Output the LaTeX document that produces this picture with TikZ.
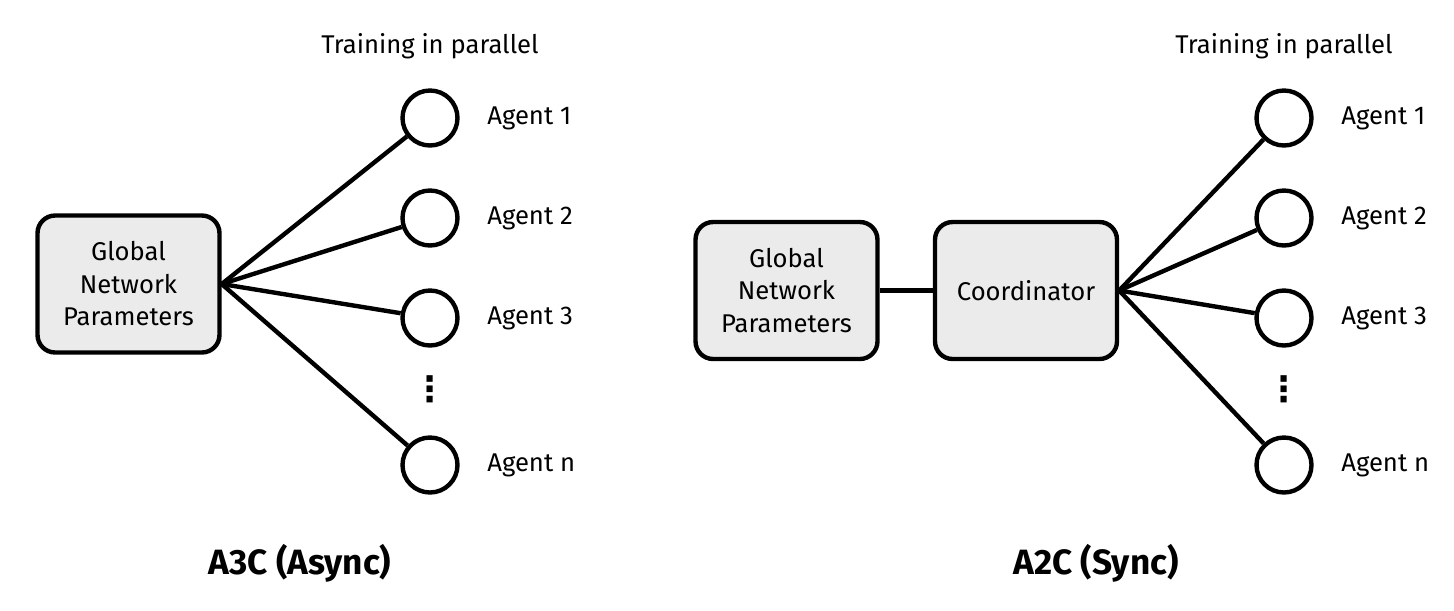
\documentclass[tikz,border=0pt]{standalone}
\usepackage{fontspec}
\setmainfont{Fira Sans}
\newfontfamily\symfont{DejaVu Sans}
\usetikzlibrary{positioning}

\begin{document}
\begin{tikzpicture}[x=0.02cm, y=-0.02cm, font=\fontsize{14.6}{17}\selectfont]

	% ==========================================
	% 1. COLOURS AND STYLES
	% ==========================================
	\definecolor{boxcol}{RGB}{235, 235, 235}   % light gray fill of the boxes

	\tikzset{
		parambox/.style={draw, line width=2.5pt, fill=boxcol, rounded corners=10pt,
			minimum width=3.64cm, minimum height=2.74cm, align=center,
			font=\fontsize{14.6}{18.5}\selectfont},
		agentnode/.style={draw, circle, line width=2.5pt, minimum size=1.1cm, inner sep=0pt},
		agentlabel/.style={anchor=west, inner sep=0pt},
		link/.style={line width=2.5pt},
		vdotsnode/.style={font=\symfont\bfseries\fontsize{20}{20}\selectfont, inner sep=0pt},
		title/.style={font=\fontsize{20}{24}\selectfont\bfseries}
	}

	\useasboundingbox (0,0) rectangle (1454,610);

	% ==========================================
	% 2. A3C (ASYNC)
	% ==========================================
	\node[parambox] (globA) at (128.5,284) {Global\\Network\\Parameters};

	\node (trainA) at (430,46) {Training in parallel};

	\foreach \name/\y/\txt in {1/118/Agent 1, 2/218/Agent 2, 3/318/Agent 3, n/465/Agent n} {
		\node[agentnode] (agA\name) at (430,\y) {};
		\node[agentlabel] (labA\name) at (487,\y) {\txt};
		\draw[link] (globA.east) -- (agA\name);
	}

	\node[vdotsnode] (dotsA) at (430,389) {⋮};

	\node[title] (titleA) at (300,563) {A3C (Async)};

	% ==========================================
	% 3. A2C (SYNC)
	% ==========================================
	\node[parambox] (globB) at (786.5,290.5) {Global\\Network\\Parameters};
	\node[parambox] (coord) at (1026,290.5) {Coordinator};
	\draw[link] (globB) -- (coord);

	\node (trainB) at (1284,46) {Training in parallel};

	\foreach \name/\y/\txt in {1/118/Agent 1, 2/218/Agent 2, 3/318/Agent 3, n/465/Agent n} {
		\node[agentnode] (agB\name) at (1284,\y) {};
		\node[agentlabel] (labB\name) at (1341,\y) {\txt};
		\draw[link] (coord.east) -- (agB\name);
	}

	\node[vdotsnode] (dotsB) at (1284,389) {⋮};

	\node[title] (titleB) at (1096,563) {A2C (Sync)};

\end{tikzpicture}
\end{document}
